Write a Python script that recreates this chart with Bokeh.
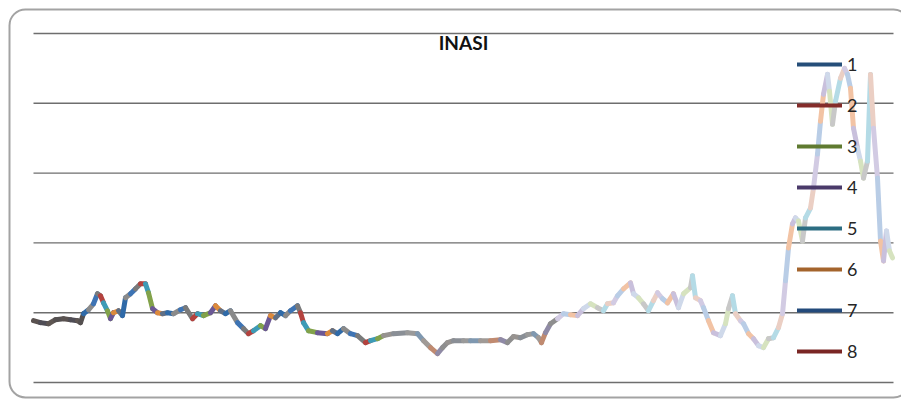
from bokeh.plotting import figure
from bokeh.models import Range1d, Legend, LegendItem, Label, ColumnDataSource
from bokeh.embed import file_html
from bokeh.resources import INLINE

# Index level over time (period number, index value)
periods = [0, 7, 15, 22, 30, 37, 44, 47, 50, 55, 60, 64, 67, 70, 74, 77, 80, 85, 89, 92,
           97, 102, 107, 112, 115, 119, 124, 129, 134, 140, 147, 152, 159, 164, 170, 177,
           182, 187, 192, 197, 204, 210, 215, 220, 227, 232, 237, 242, 247, 252, 257, 264,
           267, 270, 275, 284, 294, 299, 304, 310, 317, 324, 332, 337, 344, 350, 360, 374,
           384, 390, 397, 404, 409, 414, 420, 430, 437, 447, 457, 467, 474, 480, 487, 494,
           500, 505, 508, 512, 517, 524, 530, 537, 544, 550, 557, 564, 570, 574, 580, 584,
           590, 597, 600, 605, 610, 615, 620, 624, 629, 634, 640, 645, 650, 657, 659, 662,
           667, 670, 675, 680, 687, 692, 695, 699, 702, 707, 710, 715, 720, 725, 730, 735,
           740, 745, 749, 752, 755, 759, 762, 765, 769, 772, 777, 780, 784, 787, 790, 794,
           796, 799, 802, 807, 811, 814, 817, 820, 824, 827, 830, 834, 837, 840, 844, 847,
           850, 853, 856, 859]
index_level = [44.3, 42.9, 42.1, 45.0, 45.7, 45.0, 44.3, 42.9, 49.3, 52.1, 56.4, 63.6,
               62.1, 57.1, 51.4, 45.7, 50.0, 51.4, 47.9, 60.7, 63.6, 67.1, 70.7, 70.7,
               64.3, 52.9, 50.0, 49.3, 50.0, 49.3, 52.1, 53.6, 45.7, 49.3, 47.9, 50.0,
               55.0, 51.4, 49.3, 51.4, 42.9, 38.6, 35.0, 37.1, 40.7, 38.6, 47.9, 46.4,
               50.0, 47.9, 51.4, 55.0, 50.0, 42.9, 37.1, 35.7, 35.0, 37.1, 35.0, 38.6,
               35.0, 33.6, 28.6, 30.0, 31.4, 33.6, 35.0, 35.7, 35.0, 30.0, 25.0, 20.7,
               25.0, 28.6, 30.0, 30.0, 30.0, 30.0, 30.0, 30.7, 28.6, 32.9, 32.1, 34.3,
               35.0, 32.1, 28.6, 35.7, 42.1, 45.7, 49.3, 48.6, 47.9, 52.9, 56.4, 53.6,
               51.4, 56.4, 57.1, 62.1, 67.1, 71.4, 63.6, 60.7, 56.4, 51.4, 58.6, 64.3,
               60.0, 57.1, 63.6, 53.6, 63.6, 67.9, 76.4, 60.7, 58.6, 53.6, 44.3, 35.7,
               33.6, 42.1, 52.9, 62.1, 49.3, 44.3, 42.1, 35.0, 31.4, 26.4, 25.0, 31.4,
               32.1, 39.3, 49.3, 72.9, 96.4, 113.6, 117.9, 115.7, 101.4, 117.9, 125.0,
               139.3, 163.6, 187.1, 206.4, 220.7, 208.6, 185.0, 201.4, 217.9, 225.0,
               220.7, 210.7, 182.1, 167.9, 158.6, 146.4, 158.6, 220.7, 182.1, 146.4,
               101.4, 87.1, 108.6, 94.3, 89.3]

grid_levels = [0, 50, 100, 150, 200, 250]
series_names = ["1", "2", "3", "4", "5", "6", "7", "8"]
series_colors = ["#254E79", "#842C2A", "#5F7A30", "#4A3A6A", "#2C6D82", "#A4642C",
                 "#234A7B", "#7A2624"]

# colour cycles for the overlapping series along the path
early = ["#5a5250", "#4f4d55", "#5e5652", "#545050"]
vivid = ["#3e74b4", "#7a7a7a", "#b4423e", "#3d9bb6", "#82a24a", "#6b5895",
         "#dc8a3c", "#5f6f86", "#2f6aa8", "#8a8a8a"]
muted = ["#8e8e8e", "#979390", "#8a8f96", "#9a9a9a", "#7f98b0", "#a09a96",
         "#c08a70", "#8f8aa6"]
pastel = ["#b9cde6", "#f2c3a4", "#c9c0dc", "#cfd9ea", "#d6e3bf", "#c8c8c8",
          "#b4dbe6", "#ebcfc4", "#d2cbe3"]

xs, ys, cols = [], [], []
for i in range(len(periods) - 1):
    t = periods[i]
    if t < 48:
        pal = early
    elif t < 350:
        pal = vivid
    elif t < 520:
        pal = muted
    else:
        pal = pastel
    xs.append([periods[i], periods[i + 1]])
    ys.append([index_level[i], index_level[i + 1]])
    cols.append(pal[i % len(pal)])

x_start, x_end = 0, 860          # span of the plotted periods / gridlines

p = figure(width=901, height=401, output_backend="svg", toolbar_location=None,
           x_range=Range1d(-33, 868), y_range=Range1d(-13.59, 273.62),
           min_border=0)
p.xaxis.visible = False
p.yaxis.visible = False
p.outline_line_color = None
p.grid.visible = False
p.background_fill_color = "white"
p.border_fill_color = "white"

# rounded chart-area border (right edge runs past the page)
p.quad(left=-24, right=876, bottom=-10.7, top=267.2, fill_alpha=0,
       line_color="#a3a3a3", line_width=2, border_radius=16)

# horizontal gridlines across the plotted span
p.segment(x0=[x_start] * len(grid_levels), x1=[x_end] * len(grid_levels),
          y0=grid_levels, y1=grid_levels, line_color="#6e6e6e", line_width=1.4)

src = ColumnDataSource(dict(xs=xs, ys=ys, color=cols))
p.multi_line(xs="xs", ys="ys", line_color="color", line_width=5,
             line_cap="round", line_join="round", source=src)

# legend swatches: series lines kept outside the visible range
items = []
for name, c in zip(series_names, series_colors):
    r = p.line([-500, -490], [-500, -500], line_color=c, line_width=4,
               line_cap="round")
    items.append(LegendItem(label=name, renderers=[r]))

legend = Legend(items=items, location=(797, 39), orientation="vertical",
                glyph_width=45, glyph_height=20, label_height=20, spacing=19,
                label_standoff=5, padding=0, margin=0,
                label_text_font="Lato", label_text_font_size="18px",
                label_text_color="#262626",
                background_fill_alpha=0, border_line_color=None)
p.add_layout(legend, "center")

p.add_layout(Label(x=430, y=243.5, text="INASI", text_font="Lato",
                   text_font_style="bold", text_font_size="19px",
                   text_align="center", text_baseline="middle",
                   text_color="#111111"))

open("out.html", "w").write(file_html(p, INLINE))
